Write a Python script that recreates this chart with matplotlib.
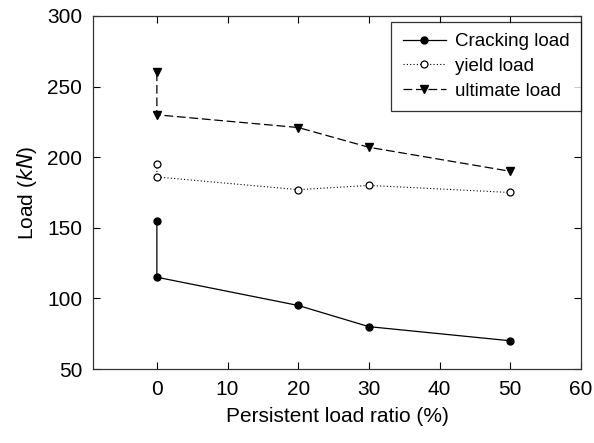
import numpy as np
import matplotlib.pyplot as plt

plt.rcParams['font.family'] = ['Liberation Sans', 'DejaVu Sans']

# datos
ratio = [0, 0, 20, 30, 50]
cracking = [155, 115, 95, 80, 70]
yield_load = [195, 186, 177, 180, 175]
ultimate = [260, 230, 221, 207, 190]

fig = plt.figure(figsize=(5.94, 4.43), dpi=100)
ax = fig.add_axes([0.157, 0.167, 0.821, 0.797])

ax.plot(ratio, cracking, color='black', linestyle='-', linewidth=0.9,
        marker='o', markersize=5, label='Cracking load')
ax.plot(ratio, yield_load, color='black', linestyle=(0, (1, 2)), linewidth=0.8,
        marker='o', markersize=5, markerfacecolor='white', markeredgewidth=0.9,
        label='yield load')
ax.plot(ratio, ultimate, color='black', linestyle=(0, (7, 3)), linewidth=0.9,
        marker='v', markersize=6, label='ultimate load')

ax.set_xlim(-9, 60)
ax.set_ylim(50, 300)
ax.set_xticks([0, 10, 20, 30, 40, 50, 60])
ax.set_yticks([50, 100, 150, 200, 250, 300])
ax.tick_params(direction='in', top=True, right=True, labelsize=15, length=5,
               width=0.8, pad=8)
for s in ax.spines.values():
    s.set_linewidth(0.9)
    s.set_color('#333333')

ax.set_xlabel('Persistent load ratio (%)', fontsize=15, labelpad=6)
ax.set_ylabel('Load ($\\mathit{kN}$)', fontsize=15, labelpad=6)

leg = ax.legend(loc='upper right', bbox_to_anchor=(1.0, 0.983),
                fontsize=13.5, frameon=True, fancybox=False,
                edgecolor='black', borderaxespad=0, handlelength=2.3,
                labelspacing=0.4, handletextpad=0.5, borderpad=0.6)
leg.get_frame().set_linewidth(0.9)

plt.savefig('out.png', dpi=100)
